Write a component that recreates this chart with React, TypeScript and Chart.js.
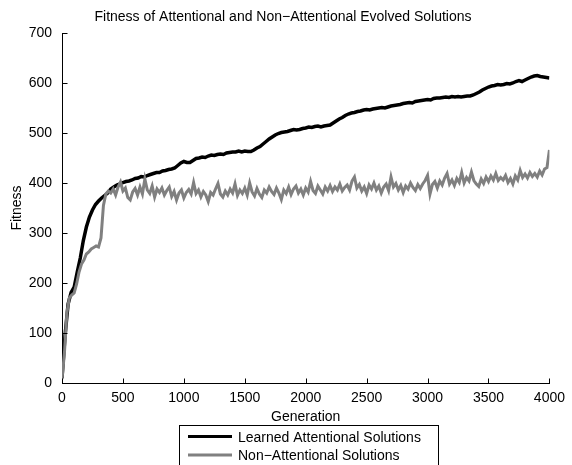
import React, { useEffect, useRef } from 'react';
import { Chart, registerables } from 'chart.js';

Chart.register(...registerables);

const TITLE = 'Fitness of Attentional and Non\u2212Attentional Evolved Solutions';
const X_LABEL = 'Generation';
const Y_LABEL = 'Fitness';
const SERIES_NAMES = ['Learned Attentional Solutions', 'Non\u2212Attentional Solutions'];
const X_TICKS = [0, 500, 1000, 1500, 2000, 2500, 3000, 3500, 4000];
const Y_TICKS = [0, 100, 200, 300, 400, 500, 600, 700];

// generations sampled for the learned (black) series
const GENERATIONS_LEARNED = [
  0, 25, 50, 75, 100, 125, 150, 175, 200, 225,
  250, 275, 300, 325, 350, 375, 400, 425, 450, 475,
  500, 525, 550, 575, 600, 625, 650, 675, 700, 725,
  750, 775, 800, 825, 850, 875, 900, 925, 950, 975,
  1000, 1025, 1050, 1075, 1100, 1125, 1150, 1175, 1200, 1225,
  1250, 1275, 1300, 1325, 1350, 1375, 1400, 1425, 1450, 1475,
  1500, 1525, 1550, 1575, 1600, 1625, 1650, 1675, 1700, 1725,
  1750, 1775, 1800, 1825, 1850, 1875, 1900, 1925, 1950, 1975,
  2000, 2025, 2050, 2075, 2100, 2125, 2150, 2175, 2200, 2225,
  2250, 2275, 2300, 2325, 2350, 2375, 2400, 2425, 2450, 2475,
  2500, 2525, 2550, 2575, 2600, 2625, 2650, 2675, 2700, 2725,
  2750, 2775, 2800, 2825, 2850, 2875, 2900, 2925, 2950, 2975,
  3000, 3025, 3050, 3075, 3100, 3125, 3150, 3175, 3200, 3225,
  3250, 3275, 3300, 3325, 3350, 3375, 3400, 3425, 3450, 3475,
  3500, 3525, 3550, 3575, 3600, 3625, 3650, 3675, 3700, 3725,
  3750, 3775, 3800, 3825, 3850, 3875, 3900, 3925, 3950, 3975,
  4000,
];

const LEARNED = [
  10, 95, 158, 181, 192, 222, 250, 285, 312, 332,
  346, 357, 364, 370, 375, 380, 388, 392, 396, 398,
  401, 403, 404, 406, 409, 410, 413, 412, 415, 417,
  419, 421, 421, 424, 425, 427, 428, 430, 435, 440,
  443, 441, 441, 445, 449, 450, 452, 451, 454, 456,
  455, 457, 458, 457, 460, 461, 462, 462, 464, 462,
  464, 463, 463, 466, 470, 473, 478, 483, 488, 492,
  496, 499, 501, 502, 503, 505, 507, 506, 507, 509,
  510, 512, 511, 513, 514, 512, 514, 515, 516, 520,
  524, 528, 531, 535, 538, 540, 541, 543, 544, 546,
  547, 546, 548, 549, 550, 551, 550, 552, 554, 555,
  556, 557, 559, 560, 561, 560, 563, 564, 565, 566,
  567, 566, 569, 570, 570, 571, 572, 571, 573, 572,
  573, 572, 573, 574, 574, 576, 579, 582, 586, 589,
  592, 594, 595, 597, 596, 597, 599, 598, 600, 603,
  605, 603, 606, 609, 612, 614, 615, 613, 612, 611,
  610,
];

// generations sampled for the non-attentional (grey) series
const GENERATIONS_NON_ATTENTIONAL = [
  0, 20, 40, 60, 80, 100, 120, 140, 160, 180,
  200, 220, 240, 260, 280, 300, 320, 340, 360, 380,
  400, 420, 440, 460, 480, 500, 520, 540, 560, 580,
  600, 620, 640, 660, 680, 700, 720, 740, 760, 780,
  800, 820, 840, 860, 880, 900, 920, 940, 960, 980,
  1000, 1020, 1040, 1060, 1080, 1100, 1120, 1140, 1160, 1180,
  1200, 1220, 1240, 1260, 1280, 1300, 1320, 1340, 1360, 1380,
  1400, 1420, 1440, 1460, 1480, 1500, 1520, 1540, 1560, 1580,
  1600, 1620, 1640, 1660, 1680, 1700, 1720, 1740, 1760, 1780,
  1800, 1820, 1840, 1860, 1880, 1900, 1920, 1940, 1960, 1980,
  2000, 2020, 2040, 2060, 2080, 2100, 2120, 2140, 2160, 2180,
  2200, 2220, 2240, 2260, 2280, 2300, 2320, 2340, 2360, 2380,
  2400, 2420, 2440, 2460, 2480, 2500, 2520, 2540, 2560, 2580,
  2600, 2620, 2640, 2660, 2680, 2700, 2720, 2740, 2760, 2780,
  2800, 2820, 2840, 2860, 2880, 2900, 2920, 2940, 2960, 2980,
  3000, 3020, 3040, 3060, 3080, 3100, 3120, 3140, 3160, 3180,
  3200, 3220, 3240, 3260, 3280, 3300, 3320, 3340, 3360, 3380,
  3400, 3420, 3440, 3460, 3480, 3500, 3520, 3540, 3560, 3580,
  3600, 3620, 3640, 3660, 3680, 3700, 3720, 3740, 3760, 3780,
  3800, 3820, 3840, 3860, 3880, 3900, 3920, 3940, 3960, 3980,
  4000,
];

const NON_ATTENTIONAL = [
  8, 60, 140, 170, 176, 180, 198, 222, 238, 246,
  258, 262, 268, 271, 274, 272, 290, 355, 378, 384,
  380, 388, 376, 392, 402, 384, 390, 371, 366, 382,
  389, 376, 392, 378, 408, 386, 379, 394, 372, 388,
  381, 390, 376, 385, 392, 373, 383, 366, 380, 386,
  370, 381, 387, 378, 401, 379, 386, 372, 383, 376,
  363, 381, 376, 388, 399, 378, 372, 384, 376, 388,
  380, 398, 375, 386, 379, 390, 376, 400, 382, 374,
  389, 378, 371, 386, 380, 392, 383, 377, 390, 380,
  367, 386, 379, 392, 377, 388, 394, 380, 388, 376,
  390, 382, 403, 385, 379, 394, 386, 378, 392, 384,
  395, 383, 392, 386, 398, 384, 391, 396, 386, 404,
  412, 390, 397, 384, 392, 379, 396, 388, 400, 386,
  394, 380, 392, 398, 385, 412, 392, 399, 386, 395,
  381, 394, 388, 400, 391, 385, 397, 389, 398, 405,
  415, 378, 397, 403, 390, 404, 396, 410, 419, 398,
  406, 395, 409, 401, 421, 400, 411, 404, 422, 405,
  398, 393, 408, 399, 412, 403, 414, 406, 419, 405,
  411, 406, 415, 401, 409, 398, 414, 406, 425, 411,
  418, 410, 421, 413, 419, 412, 424, 416, 428, 431,
  466,
];

const COLORS = ['#000000', '#808080'];
const FONT = '"Liberation Sans", Arial, Helvetica, sans-serif';

const decorPlugin = {
  id: 'matlabDecor',
  afterDraw(chart: any) {
    const ctx = chart.ctx as CanvasRenderingContext2D;
    const xs = chart.scales.x;
    const ys = chart.scales.y;
    const area = chart.chartArea;
    ctx.save();
    ctx.strokeStyle = '#000';
    ctx.lineWidth = 1;
    // inward tick marks
    X_TICKS.forEach((v) => {
      const px = Math.round(xs.getPixelForValue(v)) + 0.5;
      const by = Math.round(area.bottom) + 0.5;
      ctx.beginPath();
      ctx.moveTo(px, by);
      ctx.lineTo(px, by - 5);
      ctx.stroke();
    });
    Y_TICKS.forEach((v) => {
      const py = Math.round(ys.getPixelForValue(v)) + 0.5;
      const lx = Math.round(area.left) + 0.5;
      ctx.beginPath();
      ctx.moveTo(lx, py);
      ctx.lineTo(lx + 5, py);
      ctx.stroke();
    });

    ctx.fillStyle = '#000';
    ctx.font = `14px ${FONT}`;
    ctx.textAlign = 'center';
    ctx.textBaseline = 'alphabetic';
    ctx.fillText(TITLE, 283, 21);
    ctx.fillText(X_LABEL, (area.left + area.right) / 2, 421);
    ctx.save();
    ctx.translate(17, (area.top + area.bottom) / 2);
    ctx.rotate(-Math.PI / 2);
    ctx.textBaseline = 'middle';
    ctx.fillText(Y_LABEL, 0, 0);
    ctx.restore();

    // legend
    ctx.fillStyle = '#fff';
    ctx.fillRect(179.5, 425.5, 259, 60);
    ctx.strokeStyle = '#000';
    ctx.lineWidth = 1;
    ctx.strokeRect(179.5, 425.5, 259, 60);
    const rows = [436.5, 455];
    SERIES_NAMES.forEach((name, i) => {
      ctx.strokeStyle = COLORS[i];
      ctx.lineWidth = 3;
      ctx.beginPath();
      ctx.moveTo(188, rows[i]);
      ctx.lineTo(232, rows[i]);
      ctx.stroke();
      ctx.fillStyle = '#000';
      ctx.textAlign = 'left';
      ctx.textBaseline = 'alphabetic';
      ctx.fillText(name, 238, rows[i] + 5.2);
    });
    ctx.restore();
  },
};

export default function App() {
  const canvasRef = useRef<HTMLCanvasElement | null>(null);

  useEffect(() => {
    if (!canvasRef.current) return;
    const chart = new Chart(canvasRef.current, {
      type: 'line',
      data: {
        datasets: [
          {
            label: SERIES_NAMES[0],
            data: GENERATIONS_LEARNED.map((g, i) => ({ x: g, y: LEARNED[i] })),
            borderColor: COLORS[0],
            backgroundColor: COLORS[0],
            borderWidth: 3.5,
            pointRadius: 0,
            tension: 0,
            order: 2,
          },
          {
            label: SERIES_NAMES[1],
            data: GENERATIONS_NON_ATTENTIONAL.map((g, i) => ({ x: g, y: NON_ATTENTIONAL[i] })),
            borderColor: COLORS[1],
            backgroundColor: COLORS[1],
            borderWidth: 3,
            pointRadius: 0,
            tension: 0,
            order: 1,
          },
        ],
      },
      options: {
        responsive: false,
        animation: false,
        layout: { padding: { left: 0, right: 17, top: 33, bottom: 0 } },
        plugins: {
          legend: { display: false },
          title: { display: false },
          tooltip: { enabled: false },
        },
        scales: {
          x: {
            type: 'linear',
            min: 0,
            max: 4000,
            afterBuildTicks: (s: any) => {
              s.ticks = X_TICKS.map((v) => ({ value: v }));
            },
            ticks: {
              color: '#000',
              font: { family: FONT, size: 14 },
              padding: 7,
              maxRotation: 0,
              autoSkip: false,
              callback: (v: any) => String(v),
            },
            grid: { display: false, drawTicks: false },
            border: { display: true, color: '#000', width: 1 },
            afterFit: (s: any) => {
              s.height = 82;
            },
          },
          y: {
            type: 'linear',
            min: 0,
            max: 700,
            afterBuildTicks: (s: any) => {
              s.ticks = Y_TICKS.map((v) => ({ value: v }));
            },
            ticks: {
              color: '#000',
              font: { family: FONT, size: 14 },
              padding: 10,
              callback: (v: any) => String(v),
            },
            grid: { display: false, drawTicks: false },
            border: { display: true, color: '#000', width: 1 },
            afterFit: (s: any) => {
              s.width = 62;
            },
          },
        },
      },
      plugins: [decorPlugin],
    });
    return () => chart.destroy();
  }, []);

  return (
    <div style={{ position: 'absolute', left: 0, top: 0, width: 572, height: 465, background: '#fff' }}>
      <canvas ref={canvasRef} width={572} height={465} style={{ display: 'block' }} />
    </div>
  );
}
